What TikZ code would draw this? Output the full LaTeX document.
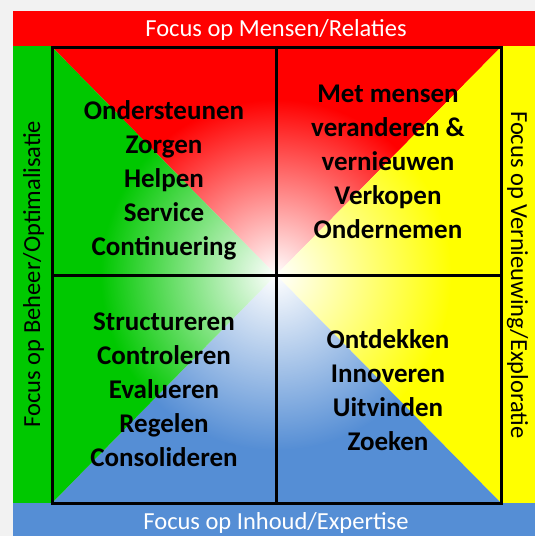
\documentclass[tikz,border=0pt]{standalone}
\usepackage{fontspec}
\setmainfont{Carlito}
\usetikzlibrary{fadings}
\definecolor{cRed}{HTML}{FF0000}
\definecolor{cGreen}{HTML}{00C800}
\definecolor{cYellow}{HTML}{FFFF00}
\definecolor{cBlue}{HTML}{558ED5}
\definecolor{cBg}{HTML}{F2F2F2}
\tikzfading[name=centerfade, inner color=transparent!0, outer color=transparent!100]
\tikzset{
  bartext/.style={font=\fontsize{24.5}{28}\selectfont, inner sep=0pt, anchor=base},
  quadtext/.style={font=\fontsize{27}{34}\selectfont\bfseries, align=center, inner sep=0pt, text=black},
  gridline/.style={line width=3pt, black}
}
\begin{document}
\begin{tikzpicture}[x=1pt,y=-1pt]
\useasboundingbox (0,0) rectangle (535,536);
\fill[cBg] (0,0) rectangle (535,536);
% bands
\fill[cRed] (13,11) rectangle (535,46);
\fill[cGreen] (13,46) rectangle (52,503);
\fill[cYellow] (501,46) rectangle (535,503);
\fill[cBlue] (13,503) rectangle (535,536);
% square corners and centre
\coordinate (tl) at (52,47);
\coordinate (tr) at (501,47);
\coordinate (bl) at (52,503);
\coordinate (br) at (501,503);
\coordinate (c) at (276,275);
\fill[cRed] (tl) -- (tr) -- (c) -- cycle;
\fill[cYellow] (tr) -- (br) -- (c) -- cycle;
\fill[cBlue] (br) -- (bl) -- (c) -- cycle;
\fill[cGreen] (bl) -- (tl) -- (c) -- cycle;
\begin{scope}
  \clip (tl) rectangle (br);
  \fill[white, path fading=centerfade] (c) circle (175);
\end{scope}
% grid
\draw[gridline] (tl) rectangle (br);
\draw[gridline] (276,47) -- (276,503);
\draw[gridline] (52,275) -- (501,275);
% band labels
\node[bartext, text=white] (top) at (276,36) {Focus op Mensen/Relaties};
\node[bartext, text=white] (bottom) at (276,529.5) {Focus op Inhoud/Expertise};
\node[bartext, text=black, rotate=90] (left) at (40,274) {Focus op Beheer/Optimalisatie};
\node[bartext, text=black, rotate=-90] (right) at (511,275) {Focus op Vernieuwing/Exploratie};
% quadrant texts
\node[quadtext] (q1) at (164,180) {Ondersteunen\\Zorgen\\Helpen\\Service\\Continuering};
\node[quadtext] (q2) at (388,162) {Met mensen\\veranderen \&\\vernieuwen\\Verkopen\\Ondernemen};
\node[quadtext] (q3) at (164,390) {Structureren\\Controleren\\Evalueren\\Regelen\\Consolideren};
\node[quadtext] (q4) at (388,390) {Ontdekken\\Innoveren\\Uitvinden\\Zoeken};
\end{tikzpicture}
\end{document}
